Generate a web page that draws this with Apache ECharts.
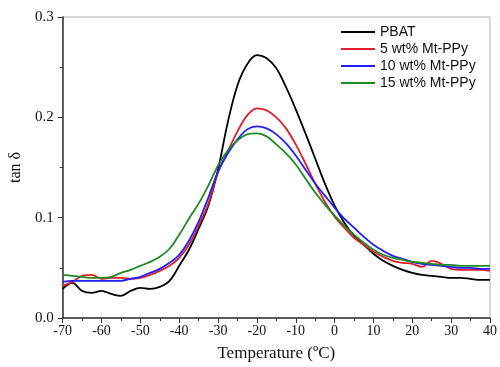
<!DOCTYPE html>
<html>
<head>
<meta charset="utf-8">
<script src="https://cdn.jsdelivr.net/npm/echarts@6/dist/echarts.min.js"></script>
<style>
html,body{margin:0;padding:0;background:#fff;}
#chart{width:500px;height:367px;}
</style>
</head>
<body>
<div id="chart"></div>
<script>
const temperature = [-70,-67.5,-65,-62.5,-60,-57.5,-55,-52.5,-50,-47.5,-45,-42.5,-40,-37.5,-35,-32.5,-30,-27.5,-25,-22.5,-20,-17.5,-15,-12.5,-10,-7.5,-5,-2.5,0,2.5,5,7.5,10,12.5,15,17.5,20,22.5,25,27.5,30,32.5,35,37.5,40];
const pbat = [0.029,0.035,0.027,0.025,0.027,0.024,0.022,0.027,0.030,0.029,0.031,0.037,0.052,0.068,0.089,0.112,0.148,0.195,0.232,0.253,0.262,0.259,0.249,0.230,0.208,0.184,0.159,0.134,0.112,0.095,0.082,0.073,0.064,0.057,0.052,0.048,0.045,0.043,0.042,0.041,0.040,0.040,0.039,0.038,0.038];
const mt5 = [0.032,0.036,0.042,0.043,0.039,0.040,0.040,0.039,0.040,0.043,0.047,0.052,0.060,0.073,0.092,0.114,0.145,0.166,0.186,0.202,0.209,0.207,0.200,0.189,0.173,0.154,0.134,0.116,0.101,0.090,0.080,0.073,0.066,0.061,0.057,0.055,0.054,0.051,0.057,0.054,0.049,0.048,0.048,0.048,0.047];
const mt10 = [0.036,0.037,0.037,0.037,0.037,0.037,0.037,0.039,0.041,0.045,0.049,0.055,0.063,0.077,0.096,0.120,0.146,0.164,0.178,0.188,0.191,0.189,0.183,0.174,0.162,0.148,0.134,0.122,0.110,0.099,0.090,0.081,0.073,0.067,0.062,0.059,0.056,0.054,0.053,0.052,0.051,0.050,0.050,0.049,0.049];
const mt15 = [0.043,0.042,0.041,0.040,0.040,0.041,0.045,0.048,0.052,0.056,0.061,0.069,0.083,0.099,0.114,0.132,0.152,0.167,0.177,0.183,0.184,0.181,0.173,0.164,0.153,0.139,0.125,0.113,0.102,0.092,0.083,0.075,0.068,0.063,0.060,0.058,0.056,0.055,0.054,0.053,0.053,0.052,0.052,0.052,0.052];
const seriesNames = ['PBAT','5 wt% Mt-PPy','10 wt% Mt-PPy','15 wt% Mt-PPy'];
const seriesColors = ['#000000','#e0202a','#1f1fff','#1f8a24'];
const xTicks = [-70,-60,-50,-40,-30,-20,-10,0,10,20,30,40];
const yTicks = [0.0,0.1,0.2,0.3];

const allData = [pbat, mt5, mt10, mt15];
const chart = echarts.init(document.getElementById('chart'), null, {renderer:'canvas'});
const serif = 'Liberation Serif';
chart.setOption({
  animation:false,
  backgroundColor:'#fff',
  grid:{left:57,right:10,top:17,bottom:47,show:true,borderColor:'#b0b0b0',borderWidth:1},
  legend:{
    orient:'vertical', left:336, top:20,
    icon:'rect', itemWidth:34, itemHeight:2, itemGap:3,
    textStyle:{fontFamily:'Liberation Sans',fontSize:14,color:'#111',lineHeight:14},
    data:seriesNames
  },
  xAxis:{
    type:'value', min:xTicks[0], max:xTicks[xTicks.length-1], interval:10,
    name:'Temperature (ºC)', nameLocation:'middle', nameGap:27,
    nameTextStyle:{fontFamily:serif,fontSize:17,color:'#111'},
    axisLine:{onZero:false,lineStyle:{color:'#333',width:1.5}},
    axisTick:{inside:false,length:5,lineStyle:{color:'#333'}},
    minorTick:{show:true,splitNumber:2,length:3,lineStyle:{color:'#333'}},
    axisLabel:{margin:6,fontFamily:serif,fontSize:14,color:'#111'},
    splitLine:{show:false}
  },
  yAxis:{
    type:'value', min:yTicks[0], max:yTicks[yTicks.length-1], interval:0.1,
    name:'tan δ', nameLocation:'middle', nameGap:33,
    nameTextStyle:{fontFamily:serif,fontSize:16,color:'#111'},
    axisLine:{onZero:false,lineStyle:{color:'#333',width:1.5}},
    axisTick:{inside:false,length:5,lineStyle:{color:'#333'}},
    minorTick:{show:true,splitNumber:2,length:3,lineStyle:{color:'#333'}},
    axisLabel:{margin:9,fontFamily:serif,fontSize:15,color:'#111',formatter:v=>v.toFixed(1)},
    splitLine:{show:false}
  },
  series: seriesNames.map((n,i)=>({
    name:n, type:'line', smooth:0.35, showSymbol:false,
    data: temperature.map((t,k)=>[t, allData[i][k]]),
    lineStyle:{color:seriesColors[i],width:1.8},
    itemStyle:{color:seriesColors[i]}
  }))
});
</script>
</body>
</html>
